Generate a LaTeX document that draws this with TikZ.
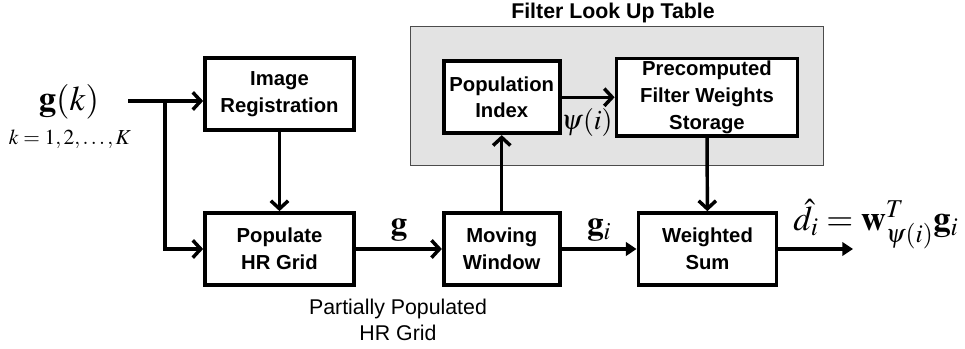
\documentclass[tikz,border=0pt]{standalone}
\usepackage{mathptmx}
\usepackage[no-math]{fontspec}
\setmainfont{Liberation Sans}
\usetikzlibrary{arrows.meta,positioning}

\begin{document}
\begin{tikzpicture}[x=0.75pt,y=-0.75pt,
  box/.style={draw=black,fill=white,line width=2.8pt,minimum height=54pt,align=center,inner sep=2pt,font=\fontsize{15.2}{20}\selectfont\bfseries},
  arrow/.style={-{Straight Barb[length=6pt,width=13pt,line width=2.6pt]},line width=2.6pt},
  flow/.style={-{Triangle[length=8pt,width=10pt]},line width=2.6pt},
  mlabel/.style={font=\fontsize{25}{27}\selectfont},
  note/.style={align=center,font=\fontsize{16}{19}\selectfont},
  node distance=57pt and 62pt]
  \useasboundingbox (0,0) rectangle (965,349);
  % filter look up table
  \node[draw=black!70,fill=black!11,line width=0.6pt,minimum width=309.75pt,minimum height=104.25pt] (lut) at (616.5,95.5) {};
  \node[font=\fontsize{16}{18}\selectfont\bfseries] (luttitle) at (613,13) {Filter Look Up Table};
  % blocks
  \node[box,minimum width=111.75pt] (populate) at (279.5,249) {Populate\\HR Grid};
  \node[box,minimum width=111.75pt,above=59.25pt of populate] (register) {Image\\Registration};
  \node[box,minimum width=87pt,right=64.5pt of populate] (window) {Moving\\Window};
  \node[box,minimum width=103.5pt,right=56.25pt of window] (wsum) {Weighted\\Sum};
  \node[box,minimum width=87pt,above=57pt of window] (popindex) {Population\\Index};
  \node[box,minimum width=135.75pt,right=39.75pt of popindex] (storage) {Precomputed\\Filter Weights\\Storage};
  % inputs and outputs
  \node[font=\fontsize{26}{28}\selectfont] (gk) at (69,102) {$\mathbf{g}(k)$};
  \node[font=\fontsize{16}{18}\selectfont] (krange) at (70,139) {$k=1,2,\ldots,K$};
  \coordinate (gin) at (128,101);
  \coordinate (split) at (165,101);
  \coordinate (out) at (853,249);
  \node[font=\fontsize{26}{28}\selectfont] (result) at (876,224) {$\hat{d}_i=\mathbf{w}^T_{\psi(i)}\mathbf{g}_i$};
  \node[note] (partial) at (398,320) {Partially Populated\\HR Grid};
  % connectors
  \draw[arrow] (gin) -- (gin -| register.west);
  \draw[arrow] (split) |- (populate.west);
  \draw[arrow] (register) -- (populate);
  \draw[arrow] (populate) -- node[above,mlabel,yshift=1pt] (glabel) {$\mathbf{g}$} (window);
  \draw[flow] (window) -- node[above,mlabel,yshift=1pt] (gilabel) {$\mathbf{g}_i$} (wsum);
  \draw[arrow] (window) -- (popindex);
  \draw[arrow] (popindex) -- (storage);
  \node[font=\fontsize{21}{23}\selectfont] (psi) at (587,123) {$\psi(i)$};
  \draw[arrow] (storage) -- (wsum);
  \draw[flow] (wsum.east) -- (out);
\end{tikzpicture}
\end{document}
